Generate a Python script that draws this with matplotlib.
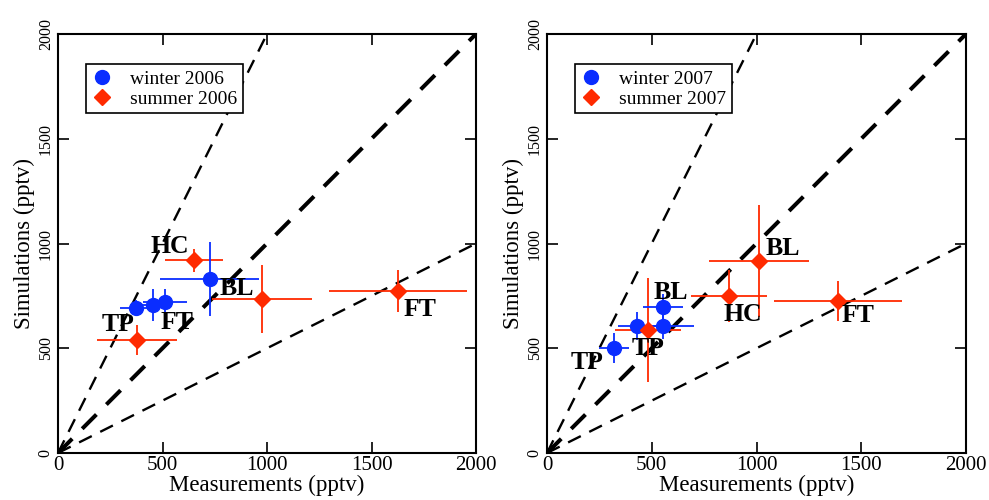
import numpy as np
import matplotlib
matplotlib.use('Agg')
import matplotlib.pyplot as plt

plt.rcParams['font.family'] = ['Liberation Serif', 'DejaVu Serif']

BLUE = '#0a2dff'
RED = '#ff2a00'

# ---- 2006 ----
w06_x = [373, 455, 512, 727]
w06_y = [692, 707, 721, 830]
w06_xerr = [75, 55, 105, 237]
w06_yerr = [40, 75, 60, 177]

s06_x = [378, 651, 976, 1627]
s06_y = [539, 921, 735, 773]
s06_xerr = [190, 137, 240, 330]
s06_yerr = [70, 55, 163, 100]

lab06_text = ['HC', 'BL', 'TP', 'FT', 'FT']
lab06_x = [536, 856, 287, 569, 1732]
lab06_y = [988, 783, 611, 625, 683]

# ---- 2007 ----
w07_x = [320, 430, 554, 554]
w07_y = [501, 606, 606, 697]
w07_xerr = [72, 90, 150, 95]
w07_yerr = [72, 65, 60, 60]

s07_x = [482, 869, 1012, 1389]
s07_y = [587, 749, 916, 725]
s07_xerr = [157, 180, 237, 305]
s07_yerr = [250, 125, 268, 95]

lab07_text = ['BL', 'BL', 'HC', 'FT', 'TP', 'TP']
lab07_x = [1126, 592, 936, 1485, 191, 482]
lab07_y = [978, 764, 659, 654, 434, 501]

ref_x = np.array([0, 2000])


def draw_panel(ax, wx, wy, wxe, wye, sx, sy, sxe, sye, lt, lx, ly, year):
    # 2:1, 1:1 and 1:2 reference lines
    ax.plot(ref_x / 2, ref_x, 'k--', lw=1.7, dashes=(6, 4))
    ax.plot(ref_x, ref_x, 'k--', lw=2.9, dashes=(5, 3.5))
    ax.plot(ref_x, ref_x / 2, 'k--', lw=1.7, dashes=(6, 4))

    ax.errorbar(sx, sy, xerr=sxe, yerr=sye, fmt='none', ecolor=RED, elinewidth=1.3, capsize=0)
    ax.errorbar(wx, wy, xerr=wxe, yerr=wye, fmt='none', ecolor=BLUE, elinewidth=1.3, capsize=0)
    ax.plot(wx, wy, 'o', color=BLUE, ms=10, label=f'winter {year}', zorder=5)
    ax.plot(sx, sy, 'D', color=RED, ms=8.5, label=f'summer {year}', zorder=5)

    for t, x, y in zip(lt, lx, ly):
        ax.text(x, y, t, fontsize=18.5, fontweight='bold', ha='center', va='center', zorder=6)

    ax.set_xlim(0, 2000)
    ax.set_ylim(0, 2000)
    ax.set_xticks([0, 500, 1000, 1500, 2000])
    ax.set_yticks([0, 500, 1000, 1500, 2000])
    ax.tick_params(direction='in', length=8, width=1.2, top=True, right=True, pad=3)
    ax.tick_params(axis='x', labelsize=15, pad=2)
    ax.tick_params(axis='y', labelsize=11.5, pad=3)
    for lbl in ax.get_yticklabels():
        lbl.set_rotation(90)
        lbl.set_va('center')
    for s in ax.spines.values():
        s.set_linewidth(1.5)
    ax.set_xlabel('Measurements (pptv)', fontsize=16.5, labelpad=0)
    ax.set_ylabel('Simulations (pptv)', fontsize=16.5, labelpad=2)
    leg = ax.legend(loc='upper left', bbox_to_anchor=(0.066, 0.928), fontsize=14,
                    fancybox=False, edgecolor='black', framealpha=1, handletextpad=0.9,
                    borderpad=0.3, labelspacing=0.12, handlelength=1.1, borderaxespad=0)
    leg.get_frame().set_linewidth(1.2)


fig = plt.figure(figsize=(9.89, 5.0), dpi=100)
ax1 = fig.add_axes([58 / 989, 47 / 500, 418 / 989, 419 / 500])
ax2 = fig.add_axes([547 / 989, 47 / 500, 419 / 989, 419 / 500])

draw_panel(ax1, w06_x, w06_y, w06_xerr, w06_yerr, s06_x, s06_y, s06_xerr, s06_yerr,
           lab06_text, lab06_x, lab06_y, 2006)
draw_panel(ax2, w07_x, w07_y, w07_xerr, w07_yerr, s07_x, s07_y, s07_xerr, s07_yerr,
           lab07_text, lab07_x, lab07_y, 2007)

fig.savefig('out.png', dpi=100)
